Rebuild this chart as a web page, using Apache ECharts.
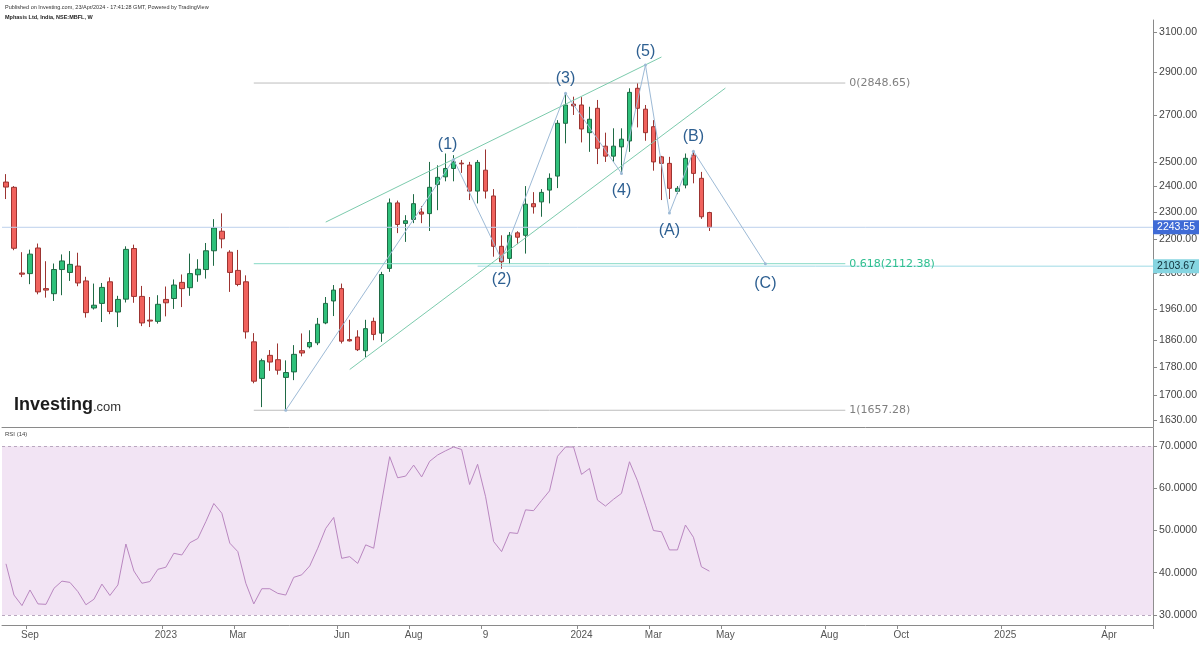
<!DOCTYPE html>
<html><head><meta charset="utf-8">
<script src="https://cdn.jsdelivr.net/npm/echarts@6/dist/echarts.min.js"></script>
<style>html,body{margin:0;padding:0;background:#fff}#c{width:1200px;height:646px}</style>
</head><body><div id="c"></div>
<script>
// ---------- data ----------
const firstWeek = '2022-08-15';
const weekCount = 144;
const open  = [2418,2397,2080,2078,2168,2027,2010,2092,2082,2104,2053,1963,1978,2050,1950,1992,2166,2001,1924,1920,1991,1994,2048,2030,2074,2092,2158,2229,2153,2089,2050,1856,1747,1815,1802,1750,1766,1829,1841,1853,1915,1986,2027,1863,1871,1829,1920,1883,2096,2336,2258,2273,2301,2295,2408,2439,2473,2495,2487,2382,2466,2363,2174,2131,2223,2214,2333,2340,2386,2442,2665,2751,2747,2624,2732,2566,2524,2563,2588,2824,2728,2650,2521,2494,2381,2406,2528,2433,2299];
const high  = [2450,2402,2153,2162,2184,2121,2113,2145,2157,2151,2067,2044,2046,2065,2003,2174,2180,2036,1999,2005,2034,2058,2075,2148,2128,2186,2274,2296,2160,2161,2072,1883,1805,1831,1851,1800,1846,1882,1892,1931,1999,2039,2044,1925,1892,1925,1932,2084,2353,2345,2289,2370,2324,2500,2486,2535,2528,2508,2500,2508,2552,2390,2214,2226,2229,2402,2378,2390,2453,2679,2801,2785,2783,2739,2770,2624,2643,2643,2824,2848.65,2747,2679,2525,2521,2402,2535,2548,2459,2302];
const low   = [2351,2160,2066,2042,2008,1997,1986,2005,2053,2035,1932,1958,1918,1943,1902,1981,1980,1905,1902,1913,1936,1960,1966,2003,2050,2061,2105,2167,2016,2035,1866,1733,1666,1769,1758,1657.28,1742,1812,1836,1846,1911,1937,1851,1857,1828,1810,1861,1856,2084,2222,2190,2259,2259,2230,2308,2421,2421,2455,2347,2334,2353,2137,2095,2111,2182,2148,2295,2283,2334,2394,2578,2702,2582,2542,2491,2500,2500,2453,2542,2647,2589,2464,2347,2351,2370,2393,2413,2275,2230];
const close = [2398,2167,2076,2146,2016,2022,2092,2122,2110,2046,1948,1972,2031,1952,1991,2163,2001,1915,1921,1975,1980,2039,2027,2078,2093,2158,2241,2201,2082,2041,1887,1739,1799,1795,1771,1764,1818,1822,1854,1911,1978,2022,1858,1859,1832,1897,1879,2075,2336,2254,2268,2333,2293,2397,2437,2473,2500,2492,2382,2498,2382,2174,2119,2214,2207,2331,2321,2377,2433,2665,2747,2743,2640,2683,2557,2524,2566,2596,2805,2732,2624,2500,2494,2393,2393,2515,2453,2283,2243.55];
const rsi   = [42.1,34.7,32.2,35.9,32.6,32.5,36.3,38.0,37.7,35.5,32.4,33.7,37.3,34.6,37.1,46.8,40.4,37.5,37.9,40.8,41.3,44.6,44.2,47.1,48.1,52.1,56.4,54.1,47.0,45.0,37.5,32.6,36.2,36.2,35.1,34.7,38.9,39.5,41.6,45.8,50.5,53.1,43.4,43.8,42.2,46.6,45.8,56.8,67.5,62.5,62.9,65.5,62.7,66.4,67.9,68.9,69.8,69.2,60.9,65.7,58.0,47.4,45.0,49.5,49.3,54.9,54.7,57.1,59.4,67.6,69.8,69.8,63.3,64.7,57.2,55.8,57.4,58.8,66.3,61.8,56.0,50.0,49.7,45.4,45.4,51.3,48.4,41.4,40.3597];
const priceTicks = [1630,1700,1780,1860,1960,2080,2200,2300,2400,2500,2700,2900,3100];
const rsiTicks = [30,40,50,60,70];
const xTickLabels = [['2022-09-05','Sep'],['2023-01-02','2023'],['2023-03-06','Mar'],['2023-06-05','Jun'],['2023-08-07','Aug'],['2023-10-09','9'],['2024-01-01','2024'],['2024-03-04','Mar'],['2024-05-06','May'],['2024-08-05','Aug'],['2024-10-07','Oct'],['2025-01-06','2025'],['2025-04-07','Apr']];
const lastPrice = 2243.55;
const targetPrice = 2103.67;
const targetStartIdx = 59;
const fibLevels = ['0','0.618','1'];
const fibPrices = [2848.65, 2112.38, 1657.28];
const fibSpan = [31, 105];
const waveIdx    = [35, 56, 62, 70, 77, 80, 83, 86, 95];
const wavePrice  = [1657.28, 2510, 2127, 2801, 2453, 2935, 2297, 2545, 2112.38];
const waveLabels = ['', '(1)', '(2)', '(3)', '(4)', '(5)', '(A)', '(B)', '(C)'];
const wavePos    = ['', 'top', 'bottom', 'top', 'bottom', 'top', 'bottom', 'top', 'bottom'];
const upperChannel = [[40, 2263], [82, 2974]];
const lowerChannel = [[43, 1773], [90, 2825]];
const rsiLast = 40.3597;

// ---------- build ----------
const FONT = 'Liberation Sans';
function weekDates(start, n) {
  const base = new Date(start + 'T00:00:00Z').getTime();
  const out = [];
  for (let i = 0; i < n; i++) out.push(new Date(base + i * 7 * 86400000).toISOString().slice(0, 10));
  return out;
}
const categories = weekDates(firstWeek, weekCount);
const labelMap = new Map(xTickLabels);
const candleData = open.map((o, i) => [o, close[i], low[i], high[i]]);
const xMax = weekCount - 0.5;
const waveLabelStyle = {
  '(1)': { distance: 5, offset: [-6, 0] }, '(2)': { distance: 11 }, '(3)': { distance: 5 },
  '(4)': { distance: 8 }, '(5)': { distance: 4 }, '(A)': { distance: 8 }, '(B)': { distance: 5 }, '(C)': { distance: 10 }
};

const chart = echarts.init(document.getElementById('c'));
const series = [
  {
    type: 'candlestick', xAxisIndex: 0, yAxisIndex: 0, data: candleData, barWidth: 5,
    itemStyle: { color: '#2fc07a', color0: '#f0625d', borderColor: '#1f6a45', borderColor0: '#9c3431', borderWidth: 1 }
  },
  {
    type: 'line', xAxisIndex: 2, yAxisIndex: 0, symbol: 'none', silent: true,
    data: [[-0.5, lastPrice], [xMax, lastPrice]], lineStyle: { color: '#bcd0ec', width: 1 },
    endLabel: { show: true, formatter: lastPrice.toFixed(2), color: '#fff', backgroundColor: '#3f6bd6', padding: [2, 4, 1, 4], fontSize: 10.5, fontFamily: FONT, distance: 0 }
  },
  {
    type: 'line', xAxisIndex: 2, yAxisIndex: 0, symbol: 'none', silent: true,
    data: [[targetStartIdx, targetPrice], [xMax, targetPrice]], lineStyle: { color: '#9fdbe6', width: 1 },
    endLabel: { show: true, formatter: targetPrice.toFixed(2), color: '#10303a', backgroundColor: '#86d5e1', padding: [2, 4, 1, 4], fontSize: 10.5, fontFamily: FONT, distance: 0 }
  }
];
fibPrices.forEach((p, i) => {
  const teal = fibLevels[i] === '0.618';
  series.push({
    type: 'line', xAxisIndex: 2, yAxisIndex: 0, symbol: 'none', silent: true,
    data: [[fibSpan[0], p], [fibSpan[1], p]],
    lineStyle: { color: teal ? '#86d9c6' : '#bdbdbd', width: 1 },
    endLabel: { show: true, formatter: fibLevels[i] + '(' + p.toFixed(2) + ')', color: teal ? '#2fbf8f' : '#7f7f7f', fontSize: 11, fontFamily: 'DejaVu Sans', distance: 4 }
  });
});
[upperChannel, lowerChannel].forEach(ch => {
  series.push({
    type: 'line', xAxisIndex: 2, yAxisIndex: 0, symbol: 'none', silent: true,
    data: ch, lineStyle: { color: '#7ccbad', width: 1 }
  });
});
series.push({
  type: 'line', xAxisIndex: 2, yAxisIndex: 0, silent: true,
  symbol: 'circle', symbolSize: 3, showSymbol: true,
  itemStyle: { color: '#9dbad6' }, lineStyle: { color: '#9dbad6', width: 1 },
  label: { show: true, color: '#2d5f91', fontSize: 16, fontFamily: FONT },
  data: waveIdx.map((x, i) => ({
    value: [x, wavePrice[i]],
    label: Object.assign({ show: !!waveLabels[i], formatter: waveLabels[i], position: wavePos[i] }, waveLabelStyle[waveLabels[i]] || {})
  }))
});
series.push({
  type: 'line', xAxisIndex: 1, yAxisIndex: 1, data: rsi, symbol: 'none', silent: true,
  lineStyle: { color: '#b987c0', width: 1 },
  markArea: { silent: true, itemStyle: { color: '#f2e4f4' }, data: [[{ yAxis: 30 }, { yAxis: 70 }]] },
  markLine: {
    silent: true, symbol: ['none', 'none'],
    lineStyle: { color: '#b9a7bf', type: [3, 3], width: 1 },
    label: { show: false },
    data: [
      { yAxis: 70 }, { yAxis: 30 },
      { yAxis: rsiLast, lineStyle: { opacity: 0 },
        label: { show: true, position: 'end', formatter: rsiLast.toFixed(4), color: '#fff', backgroundColor: '#850a8a', padding: [2, 4, 1, 4], fontSize: 10.5, fontFamily: FONT, distance: 0 } }
    ]
  }
});

const axisGray = '#8a8a8a';
chart.setOption({
  animation: false,
  backgroundColor: '#ffffff',
  textStyle: { fontFamily: FONT },
  grid: [
    { left: 2, right: 46, top: 20, height: 407 },
    { left: 2, right: 46, top: 428, height: 197 }
  ],
  xAxis: [
    { type: 'category', gridIndex: 0, data: categories, boundaryGap: true,
      axisLine: { show: true, onZero: false, lineStyle: { color: axisGray } }, axisTick: { show: false }, axisLabel: { show: false }, splitLine: { show: false } },
    { type: 'category', gridIndex: 1, data: categories, boundaryGap: true,
      axisLine: { show: true, onZero: false, lineStyle: { color: axisGray } },
      axisTick: { show: true, length: 4, interval: (i, v) => labelMap.has(v), lineStyle: { color: axisGray } },
      axisLabel: { interval: (i, v) => labelMap.has(v), formatter: v => labelMap.get(v) || '', color: '#555', fontSize: 10, margin: 5 },
      splitLine: { show: false } },
    { type: 'value', gridIndex: 0, min: -0.5, max: xMax, show: false }
  ],
  yAxis: [
    { type: 'log', logBase: 10, gridIndex: 0, position: 'right', min: 1612, max: 3162,
      axisLine: { show: true, onZero: false, lineStyle: { color: axisGray } },
      axisTick: { show: true, length: 4, customValues: priceTicks, lineStyle: { color: axisGray } },
      axisLabel: { customValues: priceTicks, formatter: v => Number(v).toFixed(2), color: '#444', fontSize: 10.5, margin: 6 },
      splitLine: { show: false } },
    { type: 'value', gridIndex: 1, position: 'right', min: 27.6, max: 74.3,
      axisLine: { show: true, onZero: false, lineStyle: { color: axisGray } },
      axisTick: { show: true, length: 4, customValues: rsiTicks, lineStyle: { color: axisGray } },
      axisLabel: { customValues: rsiTicks, formatter: v => Number(v).toFixed(4), color: '#444', fontSize: 10.5, margin: 6 },
      splitLine: { show: false } }
  ],
  graphic: [
    { type: 'text', left: 5, top: 4, style: { text: 'Published on Investing.com, 23/Apr/2024 - 17:41:28 GMT, Powered by TradingView', fontSize: 5.5, fontFamily: FONT, fill: '#333' } },
    { type: 'text', left: 5, top: 14, style: { text: 'Mphasis Ltd, India, NSE:MBFL, W', fontSize: 5.5, fontWeight: 'bold', fontFamily: FONT, fill: '#222' } },
    { type: 'text', left: 5, top: 431, style: { text: 'RSI (14)', fontSize: 6, fontFamily: FONT, fill: '#444' } },
    { type: 'text', left: 14, top: 396, style: { text: 'Investing', fontSize: 18, fontWeight: 'bold', fontFamily: FONT, fill: '#1c1c1c' } },
    { type: 'text', left: 93, top: 401, style: { text: '.com', fontSize: 13, fontFamily: FONT, fill: '#333' } }
  ],
  series
});
</script>
</body></html>
